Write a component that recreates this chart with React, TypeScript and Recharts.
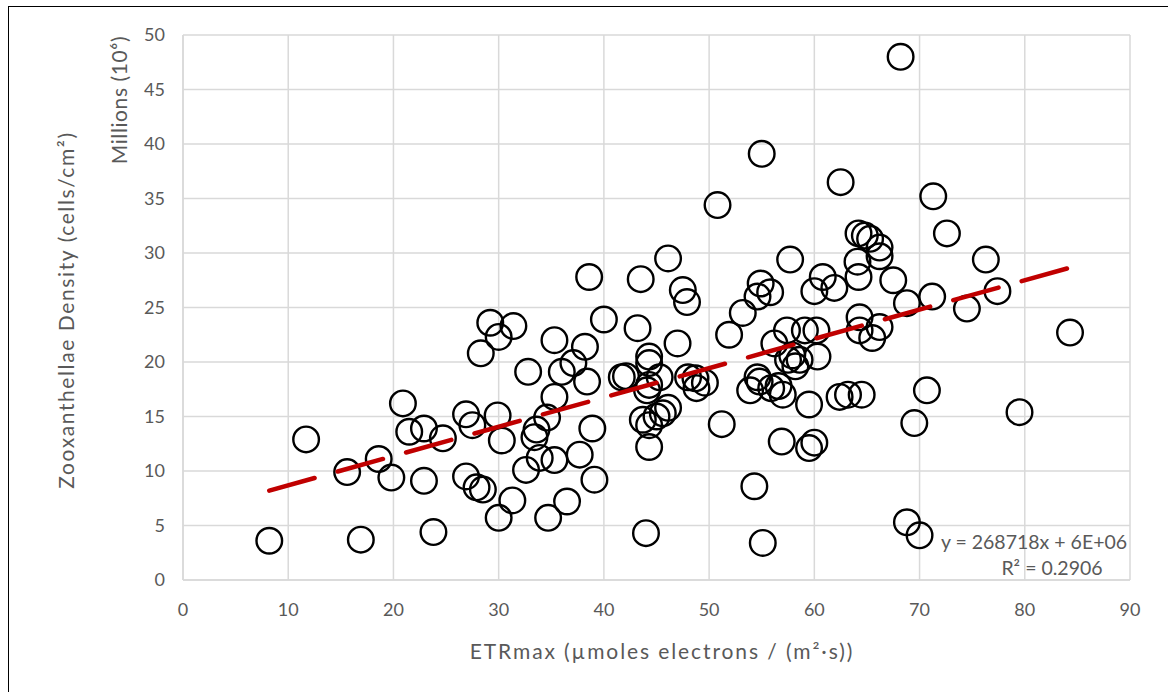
import { CartesianGrid, Scatter, ScatterChart, XAxis, YAxis } from "recharts";

// ETRmax (µmoles electrons / (m²·s))
const etrMax = [
  8.2, 11.7, 15.6, 16.9, 18.6, 19.8, 20.9, 21.5, 22.9, 22.9, 23.8, 24.7,
  26.9, 26.9, 27.5, 27.9, 28.5, 28.3, 29.2, 30.0, 29.9, 30.3, 30.0, 31.3,
  31.4, 32.6, 32.8, 33.4, 33.6, 33.9, 34.6, 34.7, 35.3, 35.3, 35.3, 36.0,
  36.5, 37.1, 37.7, 38.2, 38.4, 38.6, 38.9, 39.1, 40.0, 41.7, 43.2, 43.5,
  44.0, 43.7, 44.3, 44.3, 44.3, 44.3, 44.3, 44.1, 45.3, 45.0, 45.6, 46.1,
  46.1, 47.0, 47.5, 47.9, 48.0, 48.7, 48.8, 49.6, 50.8, 51.2, 51.9, 53.2,
  53.9, 54.3, 54.6, 55.0, 54.9, 54.6, 55.1, 55.8, 56.2, 55.9, 57.0, 56.9,
  57.4, 57.7, 57.5, 58.6, 59.1, 59.5, 59.5, 60.0, 60.0, 60.2, 60.8, 60.3,
  61.9, 62.5, 62.4, 63.2, 64.5, 64.2, 64.8, 65.3, 66.2, 66.2, 64.1, 64.2,
  64.3, 64.3, 65.5, 66.2, 67.5, 68.8, 68.2, 68.8, 69.5, 70.0, 70.7, 71.2,
  71.3, 72.6, 74.5, 76.3, 77.4, 79.5, 84.3, 42.1, 56.6, 57.9, 54.8, 58.2,
];

// Zooxanthellae density, millions of cells/cm²
const density = [
  3.6, 12.9, 9.9, 3.7, 11.1, 9.4, 16.2, 13.6, 13.9, 9.1, 4.4, 13.0,
  15.2, 9.5, 14.2, 8.5, 8.3, 20.8, 23.6, 22.3, 15.1, 12.8, 5.7, 7.3,
  23.3, 10.1, 19.1, 13.1, 13.8, 11.2, 14.9, 5.7, 11.0, 22.0, 16.8, 19.1,
  7.2, 19.9, 11.5, 21.4, 18.2, 27.8, 13.9, 9.2, 23.9, 18.6, 23.1, 27.6,
  4.3, 14.7, 12.2, 14.2, 20.5, 19.9, 17.9, 17.4, 18.6, 15.0, 15.3, 15.8,
  29.5, 21.7, 26.6, 25.5, 18.6, 18.5, 17.6, 18.1, 34.4, 14.3, 22.5, 24.5,
  17.4, 8.6, 26.0, 39.1, 27.2, 18.6, 3.4, 26.4, 21.7, 17.6, 17.0, 12.7,
  22.9, 29.4, 20.2, 20.2, 22.9, 16.1, 12.1, 12.6, 26.5, 22.9, 27.8, 20.5,
  26.8, 36.5, 16.8, 17.0, 17.0, 31.8, 31.6, 31.3, 30.5, 29.7, 29.2, 27.8,
  24.1, 22.9, 22.2, 23.2, 27.5, 25.4, 48.0, 5.3, 14.4, 4.1, 17.4, 26.0,
  35.2, 31.8, 24.9, 29.4, 26.5, 15.4, 22.7, 18.7, 17.8, 20.6, 18.2, 19.6,
];

const xTicks = [0, 10, 20, 30, 40, 50, 60, 70, 80, 90];
const yTicks = [0, 5, 10, 15, 20, 25, 30, 35, 40, 45, 50];

// linear trend from the chart: y = 268718x + 6E+06 (shown in millions)
const trendSlope = 0.268718;
const trendIntercept = 6.0;

const points = etrMax.map((x, i) => ({ x, y: density[i] }));
const trend = [Math.min(...etrMax), Math.max(...etrMax)].map((x) => ({
  x,
  y: trendSlope * x + trendIntercept,
}));

const grey = "#595959";
const gridGrey = "#d9d9d9";
const font = "Lato, 'Open Sans', sans-serif";

const Ring = (props: any) => (
  <circle cx={props.cx} cy={props.cy} r={12.8} fill="none" stroke="#000" strokeWidth={2.4} />
);

export default function App() {
  return (
    <>
      <style>{"html, body { margin: 0; overflow: hidden; }"}</style>
      <div
        style={{
          position: "absolute",
          left: 8,
          top: 6,
          width: 1180,
          height: 700,
          borderLeft: "1px solid #000",
          borderTop: "1.5px solid #000",
          background: "#fff",
          fontFamily: font,
          overflow: "hidden",
        }}
      >
        <ScatterChart width={1158} height={684} margin={{ top: 28, right: 37, bottom: 81, left: 134 }}>
          <CartesianGrid stroke={gridGrey} strokeWidth={1.5} />
          <XAxis
            type="number"
            dataKey="x"
            domain={[0, 90]}
            ticks={xTicks}
            height={30}
            axisLine={{ stroke: gridGrey, strokeWidth: 1.5 }}
            tickLine={false}
            tickSize={0}
            tickMargin={23}
            tick={{ fill: grey, fontSize: 18, fontFamily: font }}
          />
          <YAxis
            type="number"
            dataKey="y"
            domain={[0, 50]}
            ticks={yTicks}
            width={40}
            axisLine={{ stroke: gridGrey, strokeWidth: 1.5 }}
            tickLine={false}
            tickSize={0}
            tickMargin={18}
            tick={{ fill: grey, fontSize: 18, fontFamily: font }}
          />
          <Scatter data={points} shape={Ring} isAnimationActive={false} />
          <Scatter
            data={trend}
            shape={() => null}
            line={{
              stroke: "#c00000",
              strokeWidth: 4.5,
              strokeDasharray: "47 24",
              strokeLinecap: "round",
            }}
            isAnimationActive={false}
          />
        </ScatterChart>
        <svg
          width={1158}
          height={684}
          style={{ position: "absolute", left: 0, top: 0, pointerEvents: "none" }}
          fontFamily={font}
          fill={grey}
        >
          <text
            x={56}
            y={303}
            fontSize={21}
            letterSpacing={1.6}
            textAnchor="middle"
            dominantBaseline="central"
            transform="rotate(-90 56 303)"
          >
            Zooxanthellae Density (cells/cm²)
          </text>
          <text
            x={109}
            y={93}
            fontSize={21}
            letterSpacing={0.6}
            textAnchor="middle"
            dominantBaseline="central"
            transform="rotate(-90 109 93)"
          >
            Millions (10⁶)
          </text>
          <text
            x={653}
            y={643}
            fontSize={21}
            letterSpacing={1.9}
            textAnchor="middle"
            dominantBaseline="central"
          >
            ETRmax (µmoles electrons / (m²·s))
          </text>
          <text x={1025} y={534} fontSize={19.5} textAnchor="middle" dominantBaseline="central">
            y = 268718x + 6E+06
          </text>
          <text x={1043} y={560} fontSize={19.5} textAnchor="middle" dominantBaseline="central">
            R² = 0.2906
          </text>
        </svg>
      </div>
    </>
  );
}
